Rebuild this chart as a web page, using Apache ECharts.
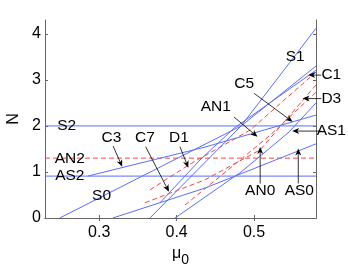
<!DOCTYPE html>
<html><head><meta charset="utf-8">
<script src="https://cdn.jsdelivr.net/npm/echarts@6/dist/echarts.min.js"></script>
<style>html,body{margin:0;padding:0;background:#fff}#c{width:348px;height:264px}</style>
</head><body><div id="c"></div>
<script>
// tick labels
const xTicks = [0.3, 0.4, 0.5];
const yTicks = [0, 1, 2, 3, 4];

// blue solid curves [mu0, N]
const S2  = [[0.23, 2.0], [0.58, 2.0]];
const AS2 = [[0.23, 0.91], [0.58, 0.91]];
const S1  = [[0.3655, 0], [0.4833, 2.0], [0.58, 4.12]];
const S0  = [[0.249, 0], [0.4833, 2.0], [0.58, 3.30]];
const C3  = [[0.2853, 0.91], [0.4367, 1.54], [0.58, 2.235]];
const AS0 = [[0.3176, 0], [0.4367, 0.65], [0.58, 1.61]];
const AS1 = [[0.3979, 0], [0.4833, 1.0], [0.5454, 1.87], [0.58, 2.5]];
const C7  = [[0.3785, 0.33], [0.4302, 1.26], [0.4742, 1.95], [0.58, 3.21]];

// red dashed curves
const AN2 = [[0.23, 1.3], [0.58, 1.3]];
const D1  = [[0.3655, 0.61], [0.4173, 1.17], [0.495, 1.91], [0.58, 3.17]];
const D3  = [[0.359, 0.33], [0.4367, 0.83], [0.5079, 1.48], [0.58, 2.89]];
const AN0 = [[0.4108, 0.28], [0.482, 1.26], [0.5208, 1.80], [0.58, 2.73]];

// annotations: text, label position, arrow tail, arrow tip (data coords)
const annText  = ['S2', 'AN2', 'AS2', 'S0', 'C3', 'C7', 'D1', 'AN1', 'C5', 'S1', 'C1', 'D3', 'AS1', 'AN0', 'AS0'];
const annPos   = [[0.2581, 2.0], [0.262, 1.296], [0.262, 0.911], [0.303, 0.477], [0.3159, 1.747], [0.359, 1.747], [0.4031, 1.747],
                  [0.4506, 2.415], [0.4872, 2.908], [0.5532, 3.50], [0.5998, 3.103], [0.5998, 2.582], [0.5998, 1.888], [0.5079, 0.586], [0.5584, 0.586]];
const annTail  = [null, null, null, null, [0.318, 1.5625], [0.36, 1.547], [0.4043, 1.547],
                  [0.4742, 2.192], [0.5001, 2.706], null, [0.5868, 3.103], [0.5868, 2.593], [0.5868, 1.888], [0.5079, 0.749], [0.5571, 0.749]];
const annTip   = [null, null, null, null, [0.3297, 1.113], [0.3901, 0.571], [0.4151, 1.092],
                  [0.5044, 1.764], [0.5497, 2.090], null, [0.570, 3.103], [0.5626, 2.593], [0.5493, 1.888], [0.5079, 1.541], [0.5571, 1.508]];

const FONT = "'Liberation Sans', Arial, Helvetica, sans-serif";
const BLUE = '#5d6ef5';
const RED = '#f04848';
const AX = '#666666';

const blueSets = [S2, AS2, S1, S0, C3, AS0, AS1, C7];
const redSets = [AN2, D1, D3, AN0];

const series = [];
redSets.forEach(d => series.push({
  type: 'line', data: d, showSymbol: false, silent: true, animation: false,
  lineStyle: { color: RED, width: 1, type: [5, 3] }
}));
blueSets.forEach(d => series.push({
  type: 'line', data: d, showSymbol: false, silent: true, animation: false,
  lineStyle: { color: BLUE, width: 1 }
}));

const chart = echarts.init(document.getElementById('c'), null, { renderer: 'canvas' });
const option = {
  animation: false,
  backgroundColor: '#fff',
  grid: { left: 45, top: 20, right: 32, bottom: 46, containLabel: false, outerBoundsMode: 'none' },
  xAxis: [{
    type: 'value', min: 0.23, max: 0.58, position: 'bottom',
    name: '{a|μ}{b|0}', nameLocation: 'middle', nameGap: 16,
    nameTextStyle: { rich: { a: { fontSize: 16, fontFamily: FONT, color: '#000' }, b: { fontSize: 14, fontFamily: FONT, color: '#000', padding: [12, 0, 0, 0] } } },
    axisLine: { show: true, lineStyle: { color: AX, width: 1 } },
    axisTick: { show: true, inside: true, length: 3, customValues: xTicks, lineStyle: { color: AX } },
    axisLabel: { customValues: xTicks, fontSize: 16, fontFamily: FONT, color: '#000', margin: 7, formatter: v => v.toFixed(1) },
    splitLine: { show: false }
  }, {
    type: 'value', min: 0.23, max: 0.58, position: 'top',
    axisLine: { show: true, lineStyle: { color: AX, width: 1 } },
    axisTick: { show: true, inside: true, length: 3, customValues: xTicks, lineStyle: { color: AX } },
    axisLabel: { show: false }, splitLine: { show: false }
  }],
  yAxis: [{
    type: 'value', min: 0, max: 4.3, position: 'left',
    name: 'N', nameLocation: 'middle', nameGap: 22,
    nameTextStyle: { fontSize: 16, fontFamily: FONT, color: '#000' },
    axisLine: { show: true, lineStyle: { color: AX, width: 1 } },
    axisTick: { show: true, inside: true, length: 3, customValues: yTicks, lineStyle: { color: AX } },
    axisLabel: { customValues: yTicks, fontSize: 16, fontFamily: FONT, color: '#000', margin: 4 },
    splitLine: { show: false }
  }, {
    type: 'value', min: 0, max: 4.3, position: 'right',
    axisLine: { show: true, lineStyle: { color: AX, width: 1 } },
    axisTick: { show: true, inside: true, length: 3, customValues: yTicks, lineStyle: { color: AX } },
    axisLabel: { show: false }, splitLine: { show: false }
  }],
  series: series
};
chart.setOption(option);

const toPx = p => chart.convertToPixel({ xAxisIndex: 0, yAxisIndex: 0 }, p);
const graphics = [];
annText.forEach((t, i) => {
  const c = toPx(annPos[i]);
  graphics.push({
    type: 'text', x: c[0], y: c[1], silent: true, z: 100,
    style: { text: t, fill: '#000', font: '15.5px ' + FONT, textAlign: 'center', textVerticalAlign: 'middle' }
  });
  if (annTail[i]) {
    const a = toPx(annTail[i]), b = toPx(annTip[i]);
    const dx = b[0] - a[0], dy = b[1] - a[1];
    const L = Math.hypot(dx, dy), ux = dx / L, uy = dy / L;
    const hl = 7, hw = 3;
    const bx = b[0] - ux * hl, by = b[1] - uy * hl;
    graphics.push({
      type: 'line', silent: true, z: 100,
      shape: { x1: a[0], y1: a[1], x2: b[0] - ux * 4, y2: b[1] - uy * 4 },
      style: { stroke: '#000', lineWidth: 0.8 }
    });
    graphics.push({
      type: 'polygon', silent: true, z: 100,
      shape: { points: [[b[0], b[1]], [bx - uy * hw, by + ux * hw], [b[0] - ux * 5, b[1] - uy * 5], [bx + uy * hw, by - ux * hw]] },
      style: { fill: '#000' }
    });
  }
});
chart.setOption({ graphic: graphics });
</script>
</body></html>
